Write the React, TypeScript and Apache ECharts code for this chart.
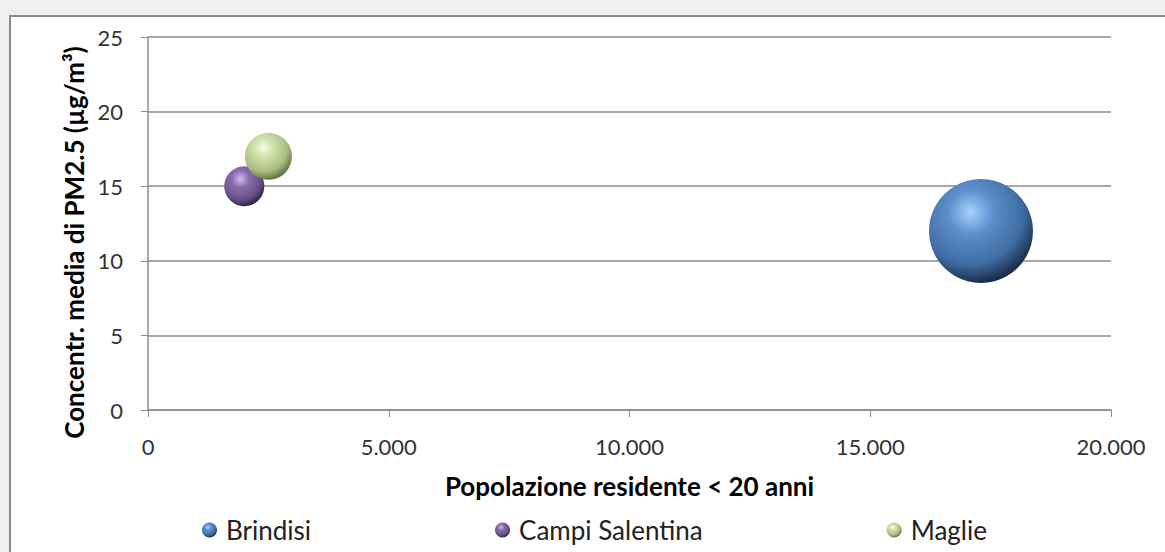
import React, { useEffect, useRef } from "react";
import * as echarts from "echarts";

const seriesNames = ["Brindisi", "Campi Salentina", "Maglie"];
const population = [17300, 2000, 2500];
const pm25 = [12, 15, 17];
const bubbleSize = [17300, 2560, 3530];
const xTicks = [0, 5000, 10000, 15000, 20000];
const yTicks = [0, 5, 10, 15, 20, 25];

const palettes = [
  ["#a8d2ff", "#5d8fcc", "#3f6ca2", "#12233a"],
  ["#d2bdef", "#8a6cb0", "#67508a", "#2a1d3c"],
  ["#f6fde6", "#cfe0a8", "#a9bc80", "#56643a"],
];

function grad(p: string[]) {
  return {
    type: "radial",
    x: 0.4,
    y: 0.32,
    r: 0.72,
    colorStops: [
      { offset: 0, color: p[0] },
      { offset: 0.3, color: p[1] },
      { offset: 0.7, color: p[2] },
      { offset: 1, color: p[3] },
    ],
  };
}

const fmt = (v: number) => String(v).replace(/\B(?=(\d{3})+(?!\d))/g, ".");

export default function App() {
  const ref = useRef<HTMLDivElement>(null);
  useEffect(() => {
    if (!ref.current) return;
    const chart = echarts.init(ref.current, undefined, { renderer: "svg" });
    const k = 104 / Math.sqrt(bubbleSize[0]);
    chart.setOption({
      animation: false,
      backgroundColor: "transparent",
      textStyle: { fontFamily: "Lato" },
      grid: { left: 148, right: 54, top: 37, bottom: 142, containLabel: false },
      legend: {
        left: 197,
        top: 512,
        itemGap: 184,
        itemWidth: 15,
        itemHeight: 15,
        icon: "circle",
        textStyle: { fontSize: 26, color: "#222", fontFamily: "Lato", padding: [0, 0, 0, 4] },
        data: seriesNames,
      },
      xAxis: {
        type: "value",
        min: xTicks[0],
        max: xTicks[xTicks.length - 1],
        interval: 5000,
        name: "Popolazione residente < 20 anni",
        nameLocation: "middle",
        nameGap: 63,
        nameTextStyle: { fontSize: 26, fontWeight: "bold", color: "#000", fontFamily: "Lato" },
        axisLine: { lineStyle: { color: "#8c8c8c", width: 1.5 } },
        axisTick: { show: true, length: 7, lineStyle: { color: "#8c8c8c" } },
        axisLabel: { fontSize: 22, color: "#333", margin: 25, formatter: (v: number) => fmt(v) },
        splitLine: { show: false },
      },
      yAxis: {
        type: "value",
        min: yTicks[0],
        max: yTicks[yTicks.length - 1],
        interval: 5,
        name: "Concentr. media di PM2.5 (µg/m³)",
        nameLocation: "middle",
        nameGap: 60,
        nameTextStyle: { fontSize: 26, fontWeight: "bold", color: "#000", fontFamily: "Lato", padding: [0, 38, 0, 0] },
        axisLine: { show: true, lineStyle: { color: "#8c8c8c", width: 1.5 } },
        axisTick: { show: true, length: 7, lineStyle: { color: "#8c8c8c" } },
        axisLabel: { fontSize: 22, color: "#333", margin: 25 },
        splitLine: { show: true, lineStyle: { color: "#8c8c8c", width: 1.5 } },
      },
      series: seriesNames.map((name, i) => ({
        name,
        type: "scatter",
        symbol: "circle",
        data: [[population[i], pm25[i], bubbleSize[i]]],
        symbolSize: (v: number[]) => k * Math.sqrt(v[2]),
        itemStyle: { color: grad(palettes[i]), opacity: 1 },
        z: 2 + i,
      })),
    });
    return () => chart.dispose();
  }, []);
  return (
    <div style={{ position: "fixed", left: 0, top: 0, width: 1165, height: 552, background: "#f0f0f0", overflow: "hidden" }}>
      <div style={{ position: "absolute", left: 9, top: 15, width: 1180, height: 560, background: "#fff", border: "2px solid #8a8a8a" }} />
      <div ref={ref} style={{ position: "absolute", left: 0, top: 0, width: 1165, height: 552 }} />
    </div>
  );
}
